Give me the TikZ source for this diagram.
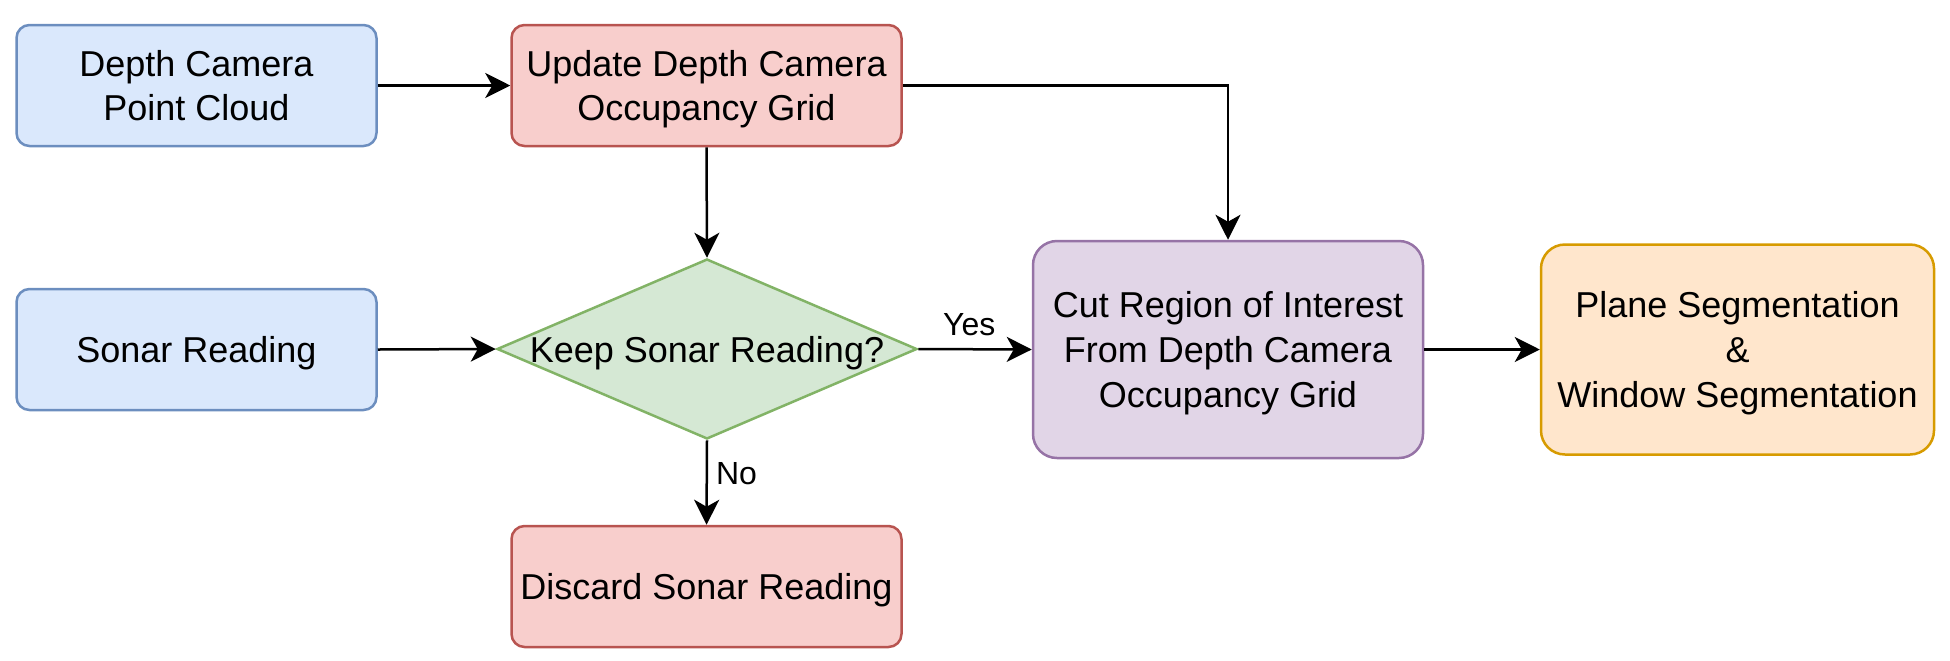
\documentclass[tikz,border=0pt]{standalone}
\usepackage{fontspec}
\setmainfont{Liberation Sans}
\usetikzlibrary{arrows.meta,shapes.geometric,positioning}
\definecolor{bluefill}{HTML}{DAE8FC}\definecolor{bluedraw}{HTML}{6C8EBF}
\definecolor{redfill}{HTML}{F8CECC}\definecolor{reddraw}{HTML}{B85450}
\definecolor{greenfill}{HTML}{D5E8D4}\definecolor{greendraw}{HTML}{82B366}
\definecolor{purplefill}{HTML}{E1D5E7}\definecolor{purpledraw}{HTML}{9673A6}
\definecolor{orangefill}{HTML}{FFE6CC}\definecolor{orangedraw}{HTML}{D79B00}
\tikzset{
  txt/.style={font=\fontsize{18pt}{22.4pt}\selectfont, align=center,
    execute at begin node={\rule{0pt}{17pt}}, execute at end node={\rule[-4pt]{0pt}{4pt}}},
  multiline/.style={execute at begin node={}, execute at end node={}, text depth=0pt},
  threeline/.style={multiline, text depth=-2pt},
  box/.style={rectangle, rounded corners=6.5pt, line width=1.25pt, inner sep=0pt, txt},
  bluebox/.style={box, fill=bluefill, draw=bluedraw, minimum width=180pt, minimum height=60.5pt},
  redbox/.style={box, fill=redfill, draw=reddraw, minimum width=195pt, minimum height=60.5pt},
  decision/.style={diamond, fill=greenfill, draw=greendraw, line width=1.25pt, inner sep=0pt,
    minimum width=210pt, minimum height=90pt},
  flow/.style={line width=1.25pt, -{Stealth[length=12.5pt,width=12.5pt,inset=3.5pt]}},
  lbl/.style={font=\fontsize{16pt}{19pt}\selectfont, inner sep=2pt}
}
\begin{document}
\begin{tikzpicture}[x=0.5pt,y=-0.5pt]
\useasboundingbox (0,0) rectangle (1950,660);
\node[bluebox, multiline] (dc) at (196.5,85.5) {Depth Camera\\Point Cloud};
\node[redbox, multiline] (up) at (706.5,85.5) {Update Depth Camera\\Occupancy Grid};
\node[bluebox] (sr) at (196.5,349.5) {Sonar Reading};
\node[decision] (keep) at (707,349) {};
\node[txt, inner sep=0pt] (keeptext) at (keep.center) {Keep Sonar Reading?};
\node[redbox] (dsr) at (706.5,586.5) {Discard Sonar Reading};
\node[box, threeline, rounded corners=12pt, fill=purplefill, draw=purpledraw, minimum width=195pt, minimum height=108.5pt] (cut) at (1228,349.5) {Cut Region of Interest\\From Depth Camera\\Occupancy Grid};
\node[box, threeline, rounded corners=12pt, fill=orangefill, draw=orangedraw, minimum width=196.5pt, minimum height=105pt] (plane) at (1737.5,349.5) {Plane Segmentation\\\&\\Window Segmentation};
\draw[flow] (dc.east) -- (up.west);
\draw[flow] (up.south) -- (keep.north);
\draw[flow] (sr.east) -- (keep.west);
\draw[flow] (keep.east) -- node[lbl, above, pos=0.45, yshift=4pt] (yes) {Yes} (cut.west);
\draw[flow] (keep.south) -- node[lbl, right, pos=0.39, xshift=2pt] (no) {No} (dsr.north);
\draw[flow] (up.east) -| (cut.north);
\draw[flow] (cut.east) -- (plane.west);
\end{tikzpicture}
\end{document}
